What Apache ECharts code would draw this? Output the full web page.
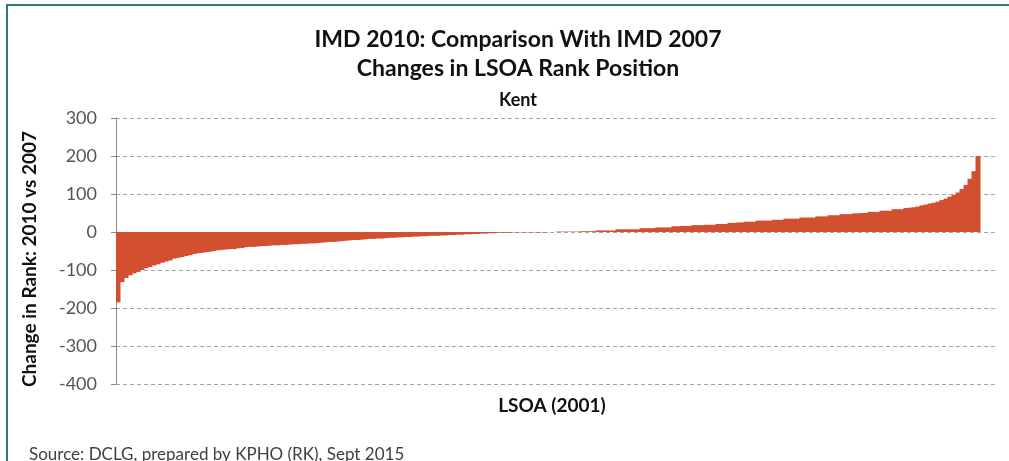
<!DOCTYPE html>
<html>
<head>
<meta charset="utf-8">
<script src="https://cdn.jsdelivr.net/npm/echarts@6/dist/echarts.min.js"></script>
<style>
html,body{margin:0;padding:0;background:#fff;}
#chart{width:1009px;height:461px;}
#frame{position:absolute;left:6px;top:4px;width:1003px;height:457px;border-top:2px solid #2F7A7E;border-left:2px solid #2F7A7E;pointer-events:none;box-sizing:border-box;}
</style>
</head>
<body>
<div id="chart"></div>
<div id="frame"></div>
<script>
// Change in LSOA rank position (2010 vs 2007), sorted ascending, Kent
const rankChange = [
-185,-132,-121,-114,-109,-105,-100,-95,-92,-88,
-85,-81,-78,-75,-70,-68,-66,-63,-61,-58,
-56,-55,-53,-52,-50,-48,-47,-46,-45,-45,
-43,-42,-40,-39,-39,-38,-37,-37,-36,-35,
-35,-34,-34,-33,-32,-32,-31,-31,-30,-30,
-29,-28,-27,-26,-26,-25,-24,-23,-22,-21,
-21,-20,-19,-18,-18,-17,-17,-16,-15,-15,
-14,-14,-13,-13,-12,-12,-11,-11,-10,-10,
-10,-9,-9,-8,-8,-7,-7,-6,-6,-5,
-5,-4,-4,-3,-3,-2,-2,-2,-2,-1,
-1,-1,-1,-1,-1,-1,-1,-1,0,0,
1,1,1,1,1,1,2,2,2,2,
4,4,4,4,4,7,7,7,7,7,
7,10,10,10,10,12,12,12,12,15,
15,16,16,16,18,18,18,19,19,19,
21,21,21,24,24,25,25,27,27,27,
30,30,30,30,32,32,32,35,35,35,
35,38,38,38,38,41,41,41,44,44,
44,47,47,47,49,49,50,50,53,53,
53,56,56,56,60,60,60,63,64,65,
67,70,72,75,77,80,84,88,93,98,
104,113,124,140,160,200
];
const emptyTail = 4;
const categories = [];
for (let i = 0; i < rankChange.length + emptyTail; i++) categories.push('LSOA ' + (i + 1));
const yTicks = { min: -400, max: 300, interval: 100 };

const chart = echarts.init(document.getElementById('chart'));
const FONT = 'Lato, "Open Sans", sans-serif';
chart.setOption({
  animation: false,
  textStyle: { fontFamily: FONT },
  title: [
    { text: 'IMD 2010: Comparison With IMD 2007', left: 513, top: 23, textAlign: 'center',
      textStyle: { fontFamily: FONT, fontSize: 23, fontWeight: 'bold', color: '#111' } },
    { text: 'Changes in LSOA Rank Position', left: 513, top: 52, textAlign: 'center',
      textStyle: { fontFamily: FONT, fontSize: 23, fontWeight: 'bold', color: '#111' } },
    { text: 'Kent', left: 513, top: 86, textAlign: 'center',
      textStyle: { fontFamily: FONT, fontSize: 18, fontWeight: 'bold', color: '#111' } },
    { text: 'Source: DCLG, prepared by KPHO (RK), Sept 2015', left: 24, top: 441,
      textStyle: { fontFamily: FONT, fontSize: 17, fontWeight: 'normal', color: '#404040' } }
  ],
  graphic: [
    { type: 'text', x: 30, y: 259, rotation: Math.PI / 2,
      style: { text: 'Change in Rank: 2010 vs 2007', font: 'bold 19px ' + FONT, fill: '#111',
               align: 'center', verticalAlign: 'middle' } },
    { type: 'text', x: 552, y: 406,
      style: { text: 'LSOA (2001)', font: 'bold 19px ' + FONT, fill: '#111',
               align: 'center', verticalAlign: 'middle' } }
  ],
  grid: { left: 116, right: 13, top: 118, bottom: 77, containLabel: false },
  xAxis: {
    type: 'category',
    data: categories,
    axisLine: { show: false, onZero: false },
    axisTick: { show: false },
    axisLabel: { show: false },
    splitLine: { show: false }
  },
  yAxis: {
    type: 'value',
    min: yTicks.min, max: yTicks.max, interval: yTicks.interval,
    axisLine: { show: true, lineStyle: { color: '#888', width: 1 } },
    axisTick: { show: true, length: 5, lineStyle: { color: '#888' } },
    axisLabel: { fontFamily: FONT, fontSize: 18, color: '#555', margin: 19 },
    splitLine: { show: true, lineStyle: { color: '#A6A6A6', type: [4, 3], width: 1 } }
  },
  series: [{
    type: 'bar',
    data: rankChange,
    barWidth: 5,
    itemStyle: { color: '#D2502F' },
    emphasis: { disabled: true }
  }]
});
</script>
</body>
</html>
